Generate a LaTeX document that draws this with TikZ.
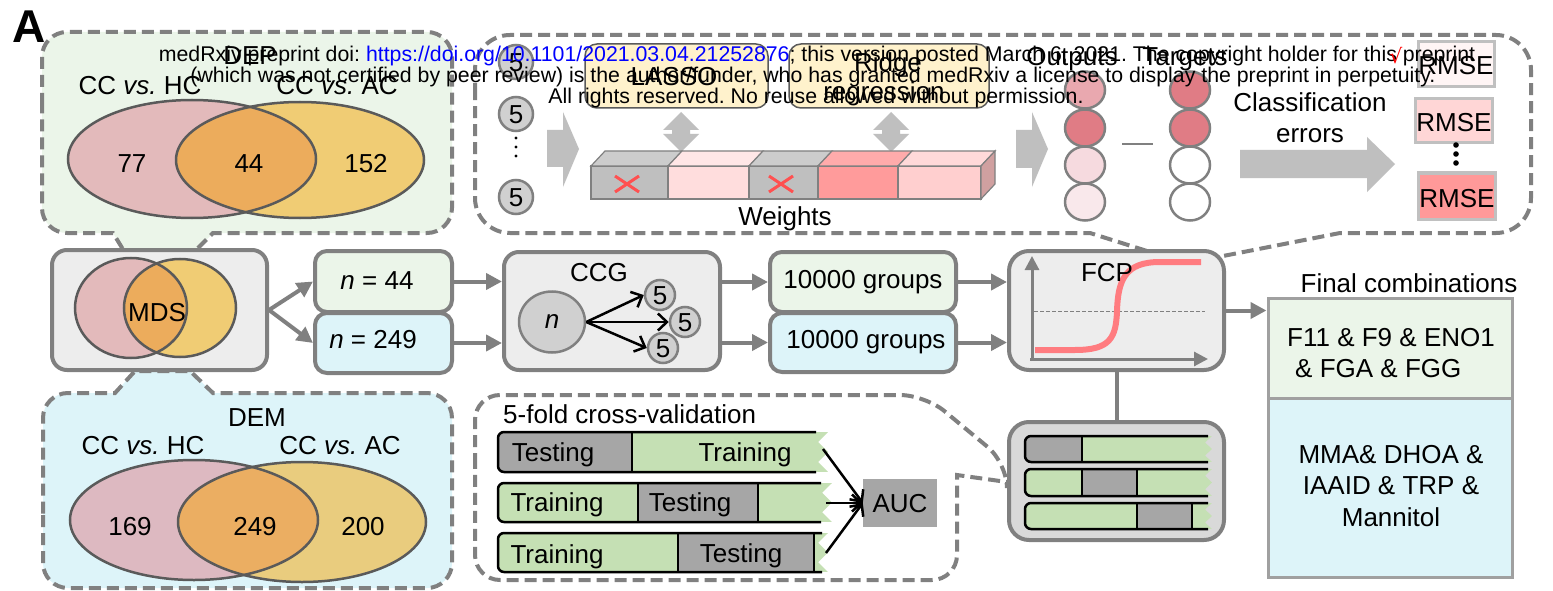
\documentclass[tikz,border=0pt]{standalone}
\usepackage{fontspec}
\setmainfont{Liberation Sans}
\newfontfamily\djv{DejaVu Sans}
\usetikzlibrary{arrows.meta,fit,shapes.geometric}
\frenchspacing

\definecolor{dg}{HTML}{808080}
\definecolor{greenc}{HTML}{EBF5E9}
\definecolor{cyanc}{HTML}{DDF4F9}
\definecolor{lgray}{HTML}{EDEDED}
\definecolor{mgray}{HTML}{D9D9D9}
\definecolor{vpink}{HTML}{E3BABB}
\definecolor{vgold}{HTML}{F0CC74}
\definecolor{vorange}{HTML}{ECAC5C}
\definecolor{vpinkb}{HTML}{DDB9C1}
\definecolor{vgoldb}{HTML}{E9CC7E}
\definecolor{vorangeb}{HTML}{EBAE62}
\definecolor{vline}{HTML}{5A5A5A}
\definecolor{yelc}{HTML}{FFF2CC}
\definecolor{arrg}{HTML}{BFBFBF}
\definecolor{cvgreen}{HTML}{C5E0B4}
\definecolor{cvgray}{HTML}{A6A6A6}
\definecolor{curvered}{HTML}{FF7C80}
\definecolor{xred}{HTML}{FF5050}
\definecolor{c5fill}{HTML}{D0D0D0}
\definecolor{wgray}{HTML}{BFBFBF}
\definecolor{wgrayt}{HTML}{CCCCCC}
\definecolor{wpa}{HTML}{FFDDDD}
\definecolor{wpat}{HTML}{FFE6E6}
\definecolor{wpb}{HTML}{FF9B9B}
\definecolor{wpbt}{HTML}{FFABAB}
\definecolor{wpc}{HTML}{FFCFCF}
\definecolor{wpct}{HTML}{FFD9D9}
\definecolor{wside}{HTML}{D0A0A0}
\definecolor{oa}{HTML}{E9A8AF}
\definecolor{ob}{HTML}{E07C85}
\definecolor{oc}{HTML}{F6DADF}
\definecolor{od}{HTML}{F9E8EB}
\definecolor{rmb}{HTML}{C0C0C0}
\definecolor{rma}{HTML}{FFF5F5}
\definecolor{rmc}{HTML}{FFD6D6}
\definecolor{rmd}{HTML}{FF9999}
\definecolor{finb}{HTML}{A0A0A0}

% lx ty rx by gx0 gx1 blackend jag
\newcommand\mycvbar[8]{%
  \begin{scope}
    \clip[rounded corners=6pt] (#7,#2) -- (#1,#2) -- (#1,#4) -- (#7,#4) [sharp corners] -- (#3,#4)
      -- ({#3-#8},{#4-0.25*(#4-#2)}) -- (#3,{#2+0.5*(#4-#2)}) -- ({#3-#8},{#2+0.25*(#4-#2)}) -- (#3,#2) -- cycle;
    \fill[cvgreen] (#1,#2) rectangle (#3,#4);
    \fill[cvgray] (#5,#2) rectangle (#6,#4);
  \end{scope}
  \draw[line width=2.5pt, rounded corners=6pt] (#7,#2) -- (#1,#2) -- (#1,#4) -- (#7,#4);
  \ifdim #5pt>#1pt \draw[line width=2.5pt] (#5,#2) -- (#5,#4); \fi
  \ifdim #6pt<#7pt \draw[line width=2.5pt] (#6,#2) -- (#6,#4); \fi
}

\begin{document}
\begin{tikzpicture}[x=1pt,y=-1pt, font=\fontsize{26}{31}\selectfont,
  txt/.style={inner sep=0pt, text height=18.6pt, text depth=0pt},
  wm/.style={inner sep=0pt, font=\fontsize{21.3}{25}\selectfont, text height=15.3pt, text depth=0pt},
  dashcall/.style={draw=dg, line width=4pt, dash pattern=on 12pt off 6pt},
  sbox/.style={draw=dg, line width=4pt, rounded corners=15pt, inner sep=0pt},
  ybox/.style={draw=vline, line width=1.5pt, rounded corners=12pt, fill=yelc, inner sep=0pt},
  rbox/.style={draw=rmb, line width=3pt, inner sep=0pt},
  fbox/.style={draw=finb, line width=3pt, inner sep=0pt},
  arr/.style={draw=dg, line width=4pt, -{Triangle[length=16pt,width=16pt]}},
  barb/.style={draw=black, line width=2.5pt, -{Straight Barb[length=9pt,width=17pt]}},
  cfive/.style={circle, draw=dg, fill=c5fill, line width=2.5pt, minimum size=34pt, inner sep=0pt, text height=18.6pt, text depth=0pt},
  csmall/.style={circle, draw=dg, fill=c5fill, line width=2.5pt, minimum size=30pt, inner sep=0pt, text height=18.6pt, text depth=0pt},
  ocirc/.style={ellipse, draw=dg, line width=2.5pt, minimum width=40pt, minimum height=37pt, inner sep=0pt},
  blockarr/.style={fill=arrg}
]
\useasboundingbox (0,0) rectangle (1553,591);

% ---------------- callouts ----------------
\filldraw[dashcall, fill=greenc] (42,130) [rounded corners=25pt] -- (42,32) -- (452,32) -- (452,233) -- (300,233) [sharp corners]
  -- (213,233) -- (195,251) -- (124,251) -- (113,233) -- (80,233) [rounded corners=25pt] -- (42,233) -- cycle;
\filldraw[dashcall, fill=cyanc] (43,490) [rounded corners=25pt] -- (43,588) -- (452,588) -- (452,393) -- (300,393) [sharp corners]
  -- (213,393) -- (190,371) -- (135,371) -- (115,393) -- (80,393) [rounded corners=25pt] -- (43,393) -- cycle;
\filldraw[dashcall, fill=white] (475,130) [rounded corners=35pt] -- (475,35) -- (1531,35) -- (1531,233) -- (1420,233) [sharp corners]
  -- (1340,233) -- (1218,257) -- (1147,251) -- (1090,233) -- (1000,233) [rounded corners=35pt] -- (475,233) -- cycle;
\filldraw[dashcall, fill=white] (475,490) [rounded corners=25pt] -- (475,395) -- (925,395) -- (1007,463) [sharp corners]
  -- (1007,482) -- (957,475) -- (957,520) [rounded corners=25pt] -- (957,580) -- (475,580) -- cycle;

% ---------------- DEP venn ----------------
\fill[vpink] (192,159) ellipse [x radius=124pt, y radius=59pt];
\fill[vgold] (300,160) ellipse [x radius=124pt, y radius=58pt];
\begin{scope}
  \clip (192,159) ellipse [x radius=124pt, y radius=59pt];
  \fill[vorange] (300,160) ellipse [x radius=124pt, y radius=58pt];
\end{scope}
\draw[vline, line width=2.5pt] (192,159) ellipse [x radius=124pt, y radius=59pt];
\draw[vline, line width=2.5pt] (300,160) ellipse [x radius=124pt, y radius=58pt];
\node[txt] (dep) at (250,55) {DEP};
\node[txt] (dep1) at (140,85) {CC \textit{vs.} HC};
\node[txt] (dep2) at (337,85) {CC \textit{vs.} AC};
\node[txt] (dep77) at (132,163) {77};
\node[txt] (dep44) at (249,163) {44};
\node[txt] (dep152) at (366,163) {152};

% ---------------- DEM venn ----------------
\fill[vpinkb] (194,520) ellipse [x radius=124pt, y radius=60pt];
\fill[vgoldb] (302,522) ellipse [x radius=124pt, y radius=60pt];
\begin{scope}
  \clip (194,520) ellipse [x radius=124pt, y radius=60pt];
  \fill[vorangeb] (302,522) ellipse [x radius=124pt, y radius=60pt];
\end{scope}
\draw[vline, line width=2.5pt] (194,520) ellipse [x radius=124pt, y radius=60pt];
\draw[vline, line width=2.5pt] (302,522) ellipse [x radius=124pt, y radius=60pt];
\node[txt] (dem) at (257,417) {DEM};
\node[txt] (dem1) at (143,445) {CC \textit{vs.} HC};
\node[txt] (dem2) at (340,445) {CC \textit{vs.} AC};
\node[txt] (dem169) at (130,526) {169};
\node[txt] (dem249) at (255,526) {249};
\node[txt] (dem200) at (363,526) {200};

% ---------------- MDS ----------------
\node[sbox, fill=lgray, fit={(52,250) (267,370)}] (mds) {};
\fill[vpink] (131,308) ellipse [x radius=56pt, y radius=50pt];
\fill[vgold] (180,308) ellipse [x radius=56pt, y radius=49pt];
\begin{scope}
  \clip (131,308) ellipse [x radius=56pt, y radius=50pt];
  \fill[vorange] (180,308) ellipse [x radius=56pt, y radius=49pt];
\end{scope}
\draw[vline, line width=2.5pt] (131,308) ellipse [x radius=56pt, y radius=50pt];
\draw[vline, line width=2.5pt] (180,308) ellipse [x radius=56pt, y radius=49pt];
\node[txt] (mdst) at (157,312) {MDS};

% ---------------- n boxes ----------------
\node[sbox, rounded corners=12pt, fill=greenc, fit={(315,251) (452,312)}] (n44) {};
\node[sbox, rounded corners=12pt, fill=cyanc, fit={(315,313) (452,373)}] (n249) {};
\node[txt] (n44t) at (377,280) {\textit{n} = 44};
\node[txt] (n249t) at (373,339) {\textit{n} = 249};
\draw[arr] (mds.east) -- (n44.west);
\draw[arr] (mds.east) -- (n249.west);

% ---------------- CCG ----------------
\node[sbox, fill=lgray, fit={(504,252) (720,370)}] (ccg) {};
\node[txt] (ccgt) at (599,272) {CCG};
\node[ellipse, draw=dg, fill=c5fill, line width=2.5pt, minimum width=66pt, minimum height=61pt, inner sep=0pt, text height=12pt, text depth=0pt] (nn) at (552,322) {\textit{n}};
\node[csmall] (s1) at (660,295) {5};
\node[csmall] (s2) at (685,322) {5};
\node[csmall] (s3) at (663,348) {5};
\draw[barb] (nn.east) -- (s1.west);
\draw[barb] (nn.east) -- (s2.west);
\draw[barb] (nn.east) -- (s3.west);
\draw[arr] (n44.east) -- (n44.east -| ccg.west);
\draw[arr] (n249.east) -- (n249.east -| ccg.west);

% ---------------- groups ----------------
\node[sbox, rounded corners=12pt, fill=greenc, fit={(770,252) (956,312)}] (g1) {};
\node[sbox, rounded corners=12pt, fill=cyanc, fit={(770,313) (956,372)}] (g2) {};
\node[txt] (g1t) at (863,279) {10000 groups};
\node[txt] (g2t) at (866,339) {10000 groups};
\draw[arr] (ccg.east |- g1.west) -- (g1.west);
\draw[arr] (ccg.east |- g2.west) -- (g2.west);

% ---------------- FCP ----------------
\node[sbox, rounded corners=20pt, fill=lgray, fit={(1009,251) (1224,370)}] (fcp) {};
\draw[dg, line width=1pt, dash pattern=on 4pt off 2pt] (1034,311) -- (1205,311);
\draw[dg, line width=3pt, -{Triangle[length=14pt,width=14pt]}] (1032,361) -- (1032,256);
\draw[dg, line width=3pt, -{Triangle[length=14pt,width=14pt]}] (1030,359) -- (1208,359);
\draw[curvered, line width=6pt] (1035,350) -- (1075,350) .. controls (1110,350) and (1116,338) .. (1117,311)
  .. controls (1118,280) and (1125,262) .. (1160,262) -- (1201,262);
\node[txt] (fcpt) at (1107,272) {FCP};
\draw[arr] (g1.east) -- (g1.east -| fcp.west);
\draw[arr] (g2.east) -- (g2.east -| fcp.west);

% ---------------- Final combinations ----------------
\node[txt] (fct) at (1409,283) {Final combinations};
\node[fbox, fill=greenc, fit={(1268,298) (1512,398)}] (fin1) {};
\node[fbox, fill=cyanc, fit={(1268,398) (1512,577)}] (fin2) {};
\node[txt, anchor=west] (f1) at (1287,337) {F11 \& F9 \& ENO1};
\node[txt, anchor=west] (f2) at (1295,368) {\& FGA \& FGG};
\node[txt] (m1) at (1391,454) {MMA\& DHOA \&};
\node[txt] (m2) at (1391,485) {IAAID \& TRP \&};
\node[txt] (m3) at (1391,517) {Mannitol};
\draw[arr] (fcp.east) -- (fcp.east -| fin1.west);

% ---------------- CV small box ----------------
\node[sbox, rounded corners=20pt, fill=mgray, fit={(1009,422) (1224,540)}] (cvs) {};
\draw[dg, line width=4pt] (fcp.south) -- (cvs.north);
\mycvbar{1025}{436}{1212}{462}{1025}{1082}{1208}{7}
\mycvbar{1025}{469}{1212}{496}{1082}{1137}{1208}{7}
\mycvbar{1025}{503}{1212}{529}{1137}{1192}{1208}{7}

% ---------------- CV callout ----------------
\node[txt, anchor=west] (cvt) at (503,414) {5-fold cross-validation};
\mycvbar{498}{432}{828}{472}{498}{632}{816}{10}
\mycvbar{498}{483}{832}{522}{638}{758}{821}{10}
\mycvbar{498}{533}{828}{572}{678}{814}{822}{10}
\node[txt] (tb1a) at (553,452) {Testing};
\node[txt] (tb1b) at (745,452) {Training};
\node[txt] (tb2a) at (557,502) {Training};
\node[txt] (tb2b) at (690,502) {Testing};
\node[txt] (tb3a) at (557,554) {Training};
\node[txt] (tb3b) at (741,553) {Testing};
\node[fill=cvgray, inner sep=0pt, fit={(863,479) (937,527)}] (auc) {};
\node[txt] (auct) at (900,503) {AUC};
\coordinate (e1) at (823,449);
\coordinate (e2) at (826,503);
\coordinate (e3) at (826,553);
\draw[barb] (e1) -- (auc.west);
\draw[barb] (e2) -- (auc.west);
\draw[barb] (e3) -- (auc.west);

% ---------------- top panel ----------------
\node[cfive] (p1) at (516,62) {5};
\node[cfive] (p2) at (516,114) {5};
\node[cfive] (p3) at (516,197) {5};
\fill (516,138) circle[radius=1.7pt] (516,147) circle[radius=1.7pt] (516,156) circle[radius=1.7pt];
\fill[blockarr] (547,130) -- (563,130) -- (563,112) -- (579,149) -- (563,187) -- (563,167) -- (547,167) -- cycle;

\node[ybox, fit={(585,44) (768,108)}] (lasso) {};
\node[txt] (lassot) at (674,76) {LASSO};
\node[ybox, fit={(789,44) (989,108)}] (ridge) {};
\node[txt] (ridget) at (888,62) {Ridge};
\node[txt] (regt) at (884,91) {regression};
\foreach \xc in {681,891} {
  \fill[blockarr] (\xc,112) -- (\xc+18,130) -- (\xc+9,130) -- (\xc+9,134) -- (\xc+18,134) -- (\xc,152)
    -- (\xc-18,134) -- (\xc-9,134) -- (\xc-9,130) -- (\xc-18,130) -- cycle;
}
\foreach \xa/\xb/\cf/\ct in {591/668/wgray/wgrayt, 668/749/wpa/wpat, 749/818/wgray/wgrayt, 818/898/wpb/wpbt, 898/981/wpc/wpct} {
  \filldraw[draw=dg, line width=1.2pt, fill=\cf] (\xa,166) rectangle (\xb,199);
  \filldraw[draw=dg, line width=1.2pt, fill=\ct] (\xa,166) -- (\xa+14,151) -- (\xb+14,151) -- (\xb,166) -- cycle;
}
\filldraw[draw=dg, line width=1.2pt, fill=wside] (981,166) -- (995,151) -- (995,184) -- (981,199) -- cycle;
\draw[xred, line width=3pt] (615,176) -- (639,192) (615,192) -- (639,176);
\draw[xred, line width=3pt] (769,176) -- (793,192) (769,192) -- (793,176);
\node[txt] (wt) at (785,216) {Weights};

\fill[blockarr] (1016,130) -- (1032,130) -- (1032,112) -- (1048,149) -- (1032,187) -- (1032,168) -- (1016,168) -- cycle;
\node[ocirc, fill=oa] (o1) at (1085,90) {};
\node[ocirc, fill=ob] (o2) at (1085,128) {};
\node[ocirc, fill=oc] (o3) at (1085,165) {};
\node[ocirc, fill=od] (o4) at (1085,202) {};
\node[ocirc, fill=ob] (t1) at (1190,90) {};
\node[ocirc, fill=ob] (t2) at (1190,128) {};
\node[ocirc, fill=white] (t3) at (1190,165) {};
\node[ocirc, fill=white] (t4) at (1190,202) {};
\draw[dg, line width=1.5pt] (1122,144) -- (1153,144);
\node[txt] (outt) at (1072,56) {Outputs};
\node[txt] (tart) at (1185,56) {Targets};
\node[txt] (clt) at (1310,102) {Classification};
\node[txt] (ert) at (1310,133) {errors};
\fill[blockarr] (1240,150) -- (1367,150) -- (1367,137) -- (1395,164) -- (1367,192) -- (1367,178) -- (1240,178) -- cycle;
\node[rbox, fill=rma, fit={(1418,42) (1494,87)}] (r1) {};
\node[rbox, fill=rmc, fit={(1415,99) (1492,143)}] (r2) {};
\node[rbox, fill=rmd, fit={(1418,173) (1495,219)}] (r3) {};
\node[txt] (r1t) at (1456,65) {RMSE};
\node[txt] (r2t) at (1454,122) {RMSE};
\node[txt] (r3t) at (1457,198) {RMSE};
\fill (1456,145) circle[radius=2.8pt] (1456,154) circle[radius=2.8pt] (1456,163) circle[radius=2.8pt];

% ---------------- label and watermark ----------------
\node[inner sep=0pt, font=\fontsize{46}{46}\selectfont\bfseries, text height=33pt, text depth=0pt] (lblA) at (29.5,26.5) {A};
\node[wm] (wm1) at (817,54) {medRxiv preprint doi: \textcolor{blue}{https://doi.org/10.1101/2021.03.04.21252876}; this version posted March 6, 2021. The copyright holder for this preprint};
\node[wm] (wm2) at (813,75) {(which was not certified by peer review) is the author/funder, who has granted medRxiv a license to display the preprint in perpetuity.};
\node[wm] (wm3) at (816,96) {All rights reserved. No reuse allowed without permission.};
\node[inner sep=0pt, text=red, font=\djv\fontsize{20}{20}\selectfont] (chk) at (1396,56) {√};
\end{tikzpicture}
\end{document}
